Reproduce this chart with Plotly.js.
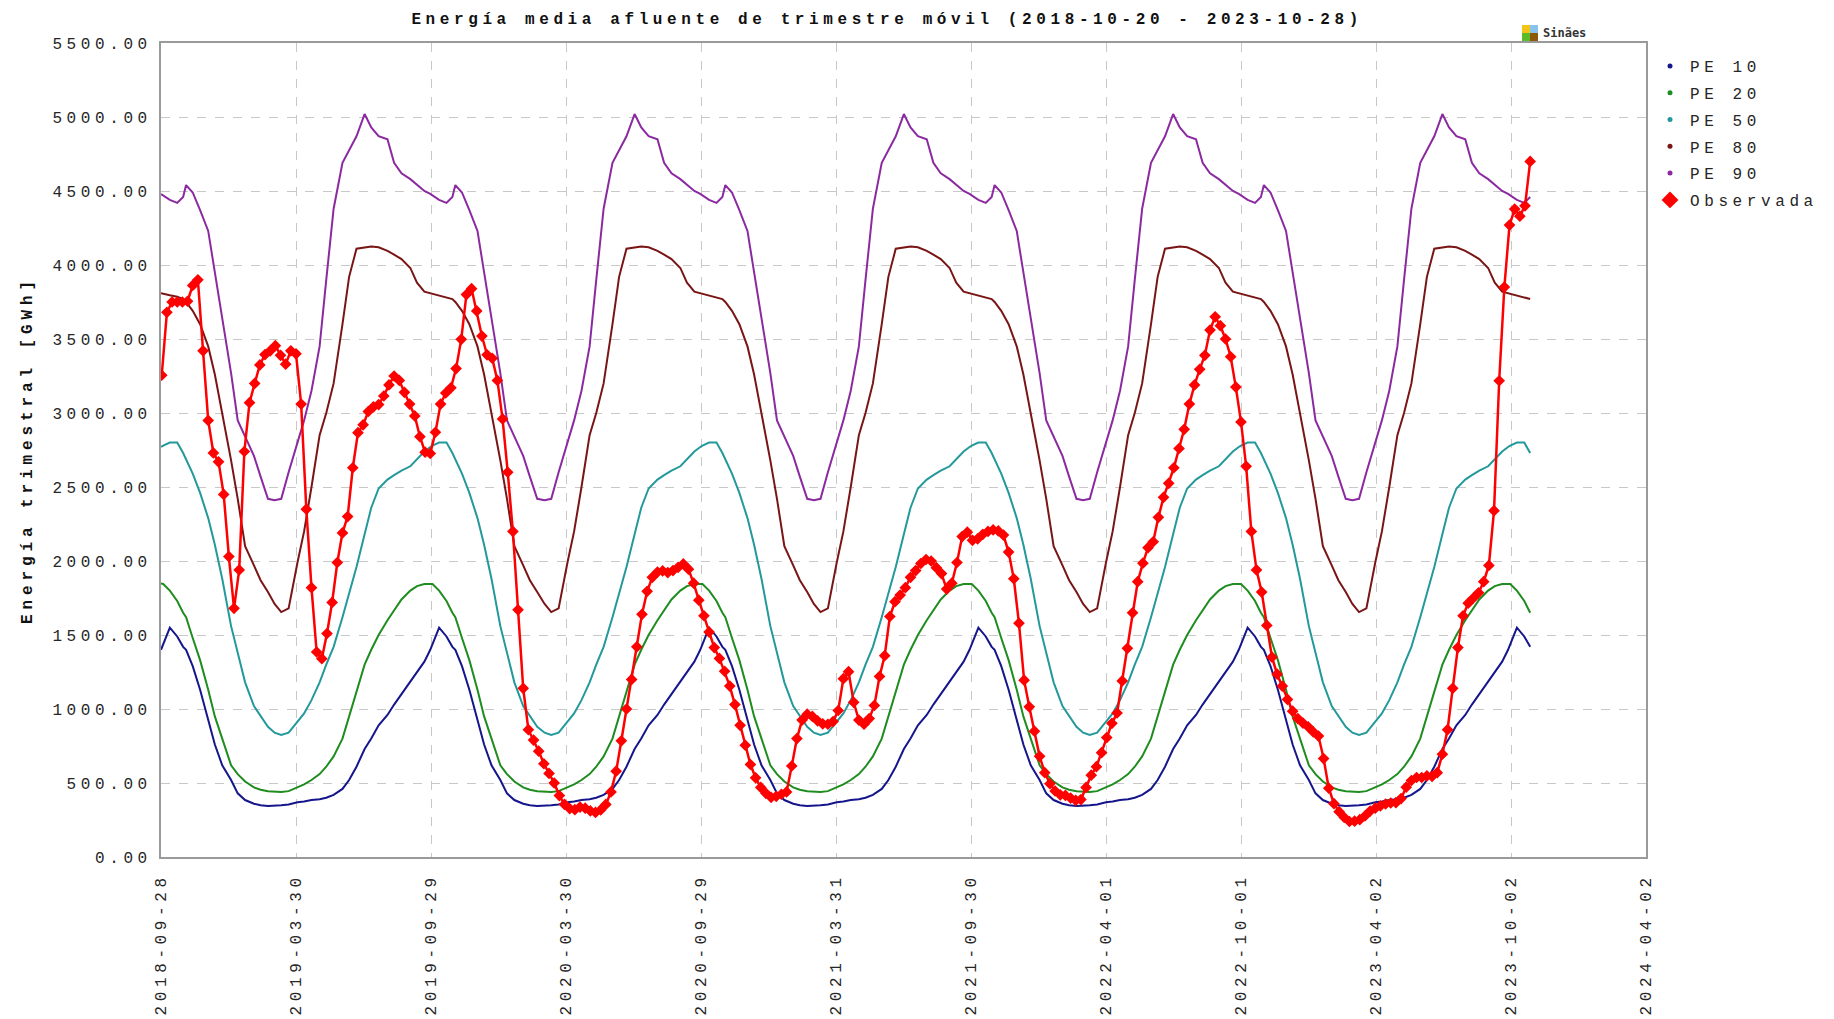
<!DOCTYPE html>
<html><head><meta charset="utf-8">
<script src="https://cdn.plot.ly/plotly-3.0.1.min.js"></script>
<style>
html,body{margin:0;padding:0;background:#fff;}
#chart{width:1834px;height:1019px;}
.xtick text,.ytick text,.legendtext,.gtitle{letter-spacing:4.6px;}
.ytitle{letter-spacing:4.9px;}
</style></head><body><div id="chart"></div>
<script>
// ---- DATA ----
// climatological percentiles (same every year), read at these month-day anchors
const anchors = ['01-01','01-10','01-20','02-01','02-10','02-20','03-01','03-10','03-20','04-01','04-10','04-20',
  '05-01','05-10','05-20','06-01','06-10','06-20','07-01','07-10','07-20','08-01','08-10','08-20',
  '09-01','09-10','09-20','09-28','10-01','10-10','10-20','10-28','11-01','11-10','11-20','12-01','12-10','12-20'];
const pe10 = [520,430,385,360,350,345,345,350,355,370,375,385,390,400,420,460,520,610,730,800,890,960,1030,1100,
  1180,1250,1320,1400,1440,1550,1490,1420,1400,1290,1130,930,760,620];
const pe20 = [620,560,510,470,455,445,440,440,445,470,490,520,560,610,680,800,950,1120,1300,1400,1500,1600,1670,1740,
  1800,1830,1845,1848,1845,1800,1730,1650,1620,1480,1330,1130,950,800];
const pe50 = [1560,1380,1180,1020,950,880,840,825,840,910,970,1060,1180,1300,1420,1620,1780,1960,2180,2360,2490,2550,2580,2610,
  2640,2690,2740,2770,2780,2800,2800,2730,2690,2590,2460,2290,2110,1880];
const pe80 = [2680,2420,2100,1970,1870,1790,1710,1655,1680,1990,2200,2500,2850,3000,3200,3600,3920,4110,4120,4125,4120,4095,4070,4040,
  3980,3880,3820,3810,3805,3795,3785,3770,3750,3690,3600,3450,3260,3000];
const pe90 = [3270,2950,2840,2710,2570,2420,2410,2420,2600,2810,2950,3150,3450,3900,4380,4690,4780,4870,5020,4930,4870,4850,4690,4620,
  4580,4540,4500,4480,4470,4440,4420,4460,4540,4490,4370,4230,3950,3640];
const peStart = '2018-09-28', peEnd = '2023-10-28';

// observed weekly values (Saturdays from 2018-09-29)
const obsStart = '2018-09-29';
const observada = [
  3255,3680,3750,3750,3750,3755,3862,3900,3420,2950,
  2730,2670,2450,2030,1680,1940,2740,3070,3200,3325,
  3395,3420,3455,3390,3330,3420,3400,3060,2350,1820,
  1385,1340,1510,1720,1990,2190,2300,2630,2867,2920,
  3010,3042,3057,3115,3190,3250,3220,3140,3060,2980,
  2840,2735,2727,2870,3060,3135,3170,3300,3498,3800,
  3840,3690,3520,3393,3370,3220,2960,2600,2200,1670,
  1140,860,790,715,630,565,500,415,355,327,
  320,337,330,311,301,318,355,440,580,785,
  1000,1200,1420,1640,1795,1890,1925,1933,1922,1935,
  1957,1980,1945,1850,1735,1630,1520,1415,1342,1255,
  1155,1030,890,755,625,535,470,430,403,410,
  424,440,615,800,925,965,950,920,900,897,
  915,990,1205,1252,1045,925,897,935,1024,1220,
  1360,1625,1725,1770,1820,1890,1935,1983,2010,2000,
  1955,1915,1810,1850,1990,2165,2195,2140,2150,2180,
  2200,2210,2203,2175,2060,1880,1580,1195,1015,850,
  680,570,495,446,420,416,398,383,388,470,
  553,610,705,807,903,973,1190,1410,1650,1860,
  1985,2090,2130,2295,2430,2525,2630,2760,2890,3060,
  3190,3295,3390,3560,3650,3590,3500,3380,3175,2940,
  2640,2200,1940,1790,1565,1350,1235,1155,1065,985,
  935,905,880,845,817,665,465,360,306,267,
  240,242,252,277,310,330,346,358,365,367,
  395,472,517,537,537,548,545,570,695,860,
  1140,1415,1630,1715,1750,1785,1860,1970,2340,3218,
  3851,4270,4378,4330,4400,4700];

const tickDates = ['2018-09-28','2019-03-30','2019-09-29','2020-03-30','2020-09-29','2021-03-31',
  '2021-09-30','2022-04-01','2022-10-01','2023-04-02','2023-10-02','2024-04-02'];
const seriesNames = ['PE 10','PE 20','PE 50','PE 80','PE 90'];
const seriesColors = ['#15158C','#1E8C1E','#23999B','#7A1515','#8B2AA0'];
const obsColor = '#FF0000';

// ---- BUILD ----
function buildPE(vals){
  const x=[], y=[];
  for(let yr=2018; yr<=2023; yr++){
    anchors.forEach((md,k)=>{
      const d = yr+'-'+md;
      if(d>=peStart && d<=peEnd){ x.push(d); y.push(vals[k]); }
    });
  }
  return {x,y};
}
function pad(n){return (n<10?'0':'')+n;}
const obsDates = observada.map((v,i)=>{
  const d = new Date(obsStart+'T00:00:00Z'); d.setUTCDate(d.getUTCDate()+7*i);
  return d.getUTCFullYear()+'-'+pad(d.getUTCMonth()+1)+'-'+pad(d.getUTCDate());
});

const FONT = '"Liberation Mono","Courier New",monospace';
const TXT = '#262626';
const traces = [];
[pe10,pe20,pe50,pe80,pe90].forEach((vals,k)=>{
  const s = buildPE(vals);
  traces.push({x:s.x, y:s.y, type:'scatter', mode:'lines', name:seriesNames[k],
    line:{color:seriesColors[k], width:2}, showlegend:false, hoverinfo:'x+y'});
});
traces.push({x:obsDates, y:observada, type:'scatter', mode:'lines+markers', name:'Observada',
  line:{color:obsColor, width:2.5}, marker:{symbol:'diamond', size:9, color:obsColor}, showlegend:false});
// legend entries (dot / diamond symbols as in the original legend)
seriesNames.forEach((n,k)=>traces.push({x:[null], y:[null], type:'scatter', mode:'markers', name:n,
  legendgroup:'g'+k, marker:{color:seriesColors[k], size:5}, showlegend:true, hoverinfo:'skip'}));
traces.push({x:[null], y:[null], type:'scatter', mode:'markers', name:'Observada', legendgroup:'gobs',
  marker:{color:obsColor, size:13, symbol:'diamond'}, showlegend:true, hoverinfo:'skip'});

// logo helper (pixel -> paper)
const W=1834, H=1019, L=161, R=1646, T=43, B=857;
const px = v => (v-L)/(R-L), py = v => (B-v)/(B-T);
const logo = [['#F2C318',1522,25],['#86C4EE',1530,25],['#5DBB2A',1522,33],['#8A5A08',1530,33]];
const shapes = logo.map(([c,x0,y0])=>({type:'rect', xref:'paper', yref:'paper',
  x0:px(x0), x1:px(x0+8), y0:py(y0+8), y1:py(y0), fillcolor:c, line:{width:0}}));

const layout = {
  width:W, height:H,
  margin:{l:L, r:W-R, t:T, b:H-B, pad:0, autoexpand:false},
  paper_bgcolor:'#ffffff', plot_bgcolor:'#ffffff',
  font:{family:FONT, size:16, color:TXT},
  title:{text:'Energía media afluente de trimestre móvil (2018-10-20 - 2023-10-28)',
    font:{family:FONT, size:16, color:'#111', weight:'bold'}, xref:'paper', x:0.489, xanchor:'center',
    yref:'container', y:1-18/H, yanchor:'middle'},
  xaxis:{type:'date', range:['2018-09-28','2024-04-02'], tickmode:'array',
    tickvals:tickDates, ticktext:tickDates, tickangle:-90, ticks:'', ticklabelstandoff:8,
    tickfont:{family:FONT, size:16, color:TXT},
    showgrid:true, gridcolor:'#c8c8c8', griddash:'dash', gridwidth:1,
    showline:true, linecolor:'#9a9a9a', linewidth:2, mirror:true, zeroline:false, automargin:false},
  yaxis:{range:[0,5500], dtick:500, tick0:0, tickformat:'.2f', ticks:'', ticklabelstandoff:4,
    tickfont:{family:FONT, size:16, color:TXT},
    showgrid:true, gridcolor:'#c8c8c8', griddash:'dash', gridwidth:1,
    showline:true, linecolor:'#9a9a9a', linewidth:2, mirror:true, zeroline:false, automargin:false,
    title:{text:'Energía trimestral [GWh]', font:{family:FONT, size:16, color:'#111', weight:'bold'}, standoff:16}},
  legend:{xref:'container', x:1650/W, xanchor:'left', yref:'container', y:1-49/H, yanchor:'top',
    font:{family:FONT, size:16, color:TXT}, bgcolor:'rgba(0,0,0,0)', itemwidth:30, tracegroupgap:3},
  shapes:shapes,
  annotations:[{xref:'paper', yref:'paper', x:px(1541), y:py(33), xanchor:'left', yanchor:'middle',
    text:'<b>Sinães</b>', showarrow:false, font:{family:'DejaVu Sans Mono', size:12, color:'#333'}}],
  hovermode:'closest'
};
Plotly.newPlot('chart', traces, layout, {displayModeBar:false, responsive:false});
</script></body></html>
